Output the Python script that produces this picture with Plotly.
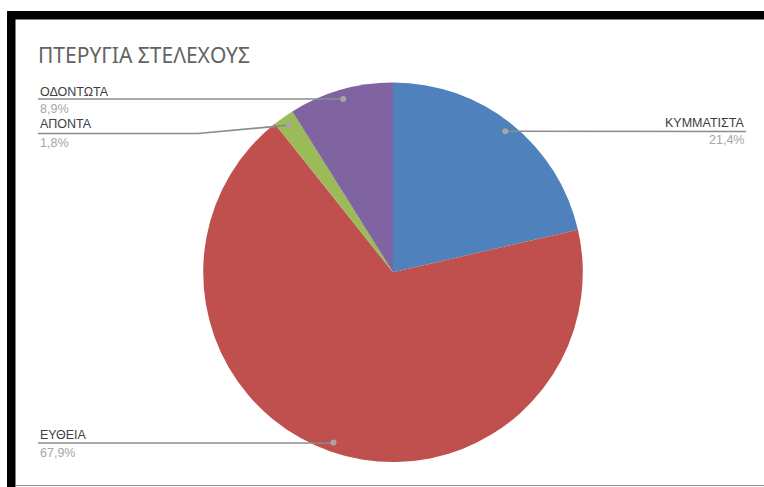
import math
import plotly.graph_objects as go

# Stem wing shape shares (%)
categories = ["ΚΥΜΜΑΤΙΣΤΑ", "ΕΥΘΕΙΑ", "ΑΠΟΝΤΑ", "ΟΔΟΝΤΩΤΑ"]
shares = [21.4, 67.9, 1.8, 8.9]
colors = ["#4F81BD", "#C0504D", "#9BBB59", "#8064A2"]
title_text = "ΠΤΕΡΥΓΙΑ ΣΤΕΛΕΧΟΥΣ"

W, H = 764, 487
TITLE_FONT = "Noto Sans"
LABEL_FONT = "Liberation Sans"


def fx(x):
    return x / W


def fy(y):
    return 1 - y / H


# pie geometry in page pixels
cx, cy, R = 393, 272.3, 189.8

fig = go.Figure(
    go.Pie(
        labels=categories,
        values=shares,
        sort=False,
        direction="clockwise",
        rotation=0,
        marker=dict(colors=colors, line=dict(width=0)),
        textinfo="none",
        hoverinfo="label+percent",
        domain=dict(x=[fx(cx - R), fx(cx + R)], y=[fy(cy + R), fy(cy - R)]),
    )
)

shapes = []
annotations = []

# frame: thick black bars on top and left, thin grey line at the bottom
shapes.append(dict(type="rect", xref="paper", yref="paper", x0=fx(7), x1=fx(W + 2),
                   y0=fy(19.5), y1=fy(11), fillcolor="black", line=dict(width=0), layer="above"))
shapes.append(dict(type="rect", xref="paper", yref="paper", x0=fx(7), x1=fx(15.5),
                   y0=fy(H + 2), y1=fy(11), fillcolor="black", line=dict(width=0), layer="above"))
shapes.append(dict(type="line", xref="paper", yref="paper", x0=fx(15), x1=fx(W),
                   y0=fy(485.5), y1=fy(485.5), line=dict(color="#8a8a8a", width=1.2)))

annotations.append(dict(text=title_text, x=fx(36), y=fy(55), xref="paper", yref="paper",
                        xanchor="left", yanchor="middle", showarrow=False,
                        font=dict(family=TITLE_FONT, size=21, color="#636363")))

# label placement: underline y, underline end x, name/percent text centres, anchor side
label_layout = {
    "ΚΥΜΜΑΤΙΣΤΑ": dict(x0=None, x1=746, y=131.5, ny=123, py=140.5, side="right"),
    "ΕΥΘΕΙΑ": dict(x0=38, x1=None, y=443, ny=435, py=452.5, side="left"),
    "ΑΠΟΝΤΑ": dict(x0=38, x1=198, y=133.5, ny=123.7, py=142.5, side="left"),
    "ΟΔΟΝΤΩΤΑ": dict(x0=38, x1=None, y=99, ny=92.3, py=108.8, side="left"),
}

line_col = "#8c8c8c"
total = sum(shares)
cum = 0.0
for name, v in zip(categories, shares):
    mid = (cum + v / 2) / total * 2 * math.pi
    cum += v
    dx_ = cx + 0.95 * R * math.sin(mid)
    dy_ = cy - 0.95 * R * math.cos(mid)
    lay = label_layout[name]
    uy = lay["y"]
    if lay["side"] == "right":
        xs = [dx_, lay["x1"]]
        ys = [dy_, uy]
        anchor_x, xa = lay["x1"], "right"
    else:
        end_x = lay["x1"] if lay["x1"] is not None else dx_
        xs = [lay["x0"], end_x, dx_]
        ys = [uy, uy, dy_]
        anchor_x, xa = lay["x0"], "left"
    for i in range(len(xs) - 1):
        shapes.append(dict(type="line", xref="paper", yref="paper",
                           x0=fx(xs[i]), x1=fx(xs[i + 1]), y0=fy(ys[i]), y1=fy(ys[i + 1]),
                           line=dict(color=line_col, width=1.6), layer="above"))
    rr = 3
    shapes.append(dict(type="circle", xref="paper", yref="paper",
                       x0=fx(dx_ - rr), x1=fx(dx_ + rr), y0=fy(dy_ + rr), y1=fy(dy_ - rr),
                       fillcolor="#a6a6a6", line=dict(width=0), layer="above"))
    annotations.append(dict(text=name, x=fx(anchor_x), y=fy(lay["ny"]), xref="paper", yref="paper",
                            xanchor=xa, yanchor="middle", showarrow=False,
                            font=dict(family=LABEL_FONT, size=12.5, color="#404040")))
    pct = f"{v:.1f}".replace(".", ",") + "%"
    annotations.append(dict(text=pct, x=fx(anchor_x), y=fy(lay["py"]), xref="paper", yref="paper",
                            xanchor=xa, yanchor="middle", showarrow=False,
                            font=dict(family=LABEL_FONT, size=12.5, color="#a6a6a6")))

fig.update_layout(
    width=W, height=H,
    margin=dict(l=0, r=0, t=0, b=0),
    paper_bgcolor="white",
    plot_bgcolor="white",
    showlegend=False,
    shapes=shapes,
    annotations=annotations,
)

fig.write_html("out.html", include_plotlyjs=True, config={"displayModeBar": False})
